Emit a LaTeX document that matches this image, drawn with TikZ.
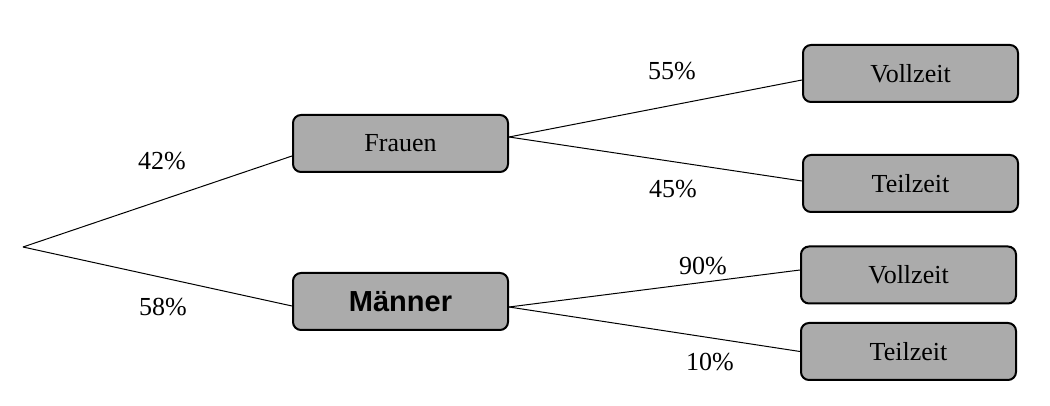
\documentclass[tikz,border=0pt]{standalone}
\usepackage{fontspec}
\setmainfont{Liberation Serif}
\newfontfamily\boldsans{Liberation Sans}
\usepackage{xcolor}
\usetikzlibrary{positioning}
\definecolor{boxgray}{RGB}{171,171,171}
\tikzset{
  leaf/.style={draw,line width=1pt,fill=boxgray,rounded corners=4pt,
    minimum width=107.5pt,minimum height=28.5pt,inner sep=0pt,font=\fontsize{13}{15}\selectfont},
  branch/.style={line width=.5pt}
}

\begin{document}
\begin{tikzpicture}[x=.5pt,y=-.5pt]
\useasboundingbox (0,0) rectangle (1050,406);
\coordinate (root) at (23,247);
\node[leaf] (fr) at (400.5,143.5) {Frauen};
\node[leaf,font=\boldsans\bfseries\fontsize{14.5}{16}\selectfont] (ma) at (400.5,301.5) {Männer};
\node[leaf] (frv) at (910.5,73.5) {Vollzeit};
\node[leaf] (frt) at (910.5,183.5) {Teilzeit};
\node[leaf] (mav) at (908.5,275) {Vollzeit};
\node[leaf] (mat) at (908.5,351.5) {Teilzeit};
\draw[branch] (root) -- ([yshift=-6.25pt]fr.west);
\draw[branch] (root) -- ([yshift=-2.25pt]ma.west);
\draw[branch] ([yshift=3.25pt]fr.east) -- ([yshift=-3.25pt]frv.west);
\draw[branch] ([yshift=3.25pt]fr.east) -- ([yshift=1.25pt]frt.west);
\draw[branch] ([yshift=-2.75pt]ma.east) -- ([yshift=2.5pt]mav.west);
\draw[branch] ([yshift=-2.75pt]ma.east) -- (mat.west);
\foreach \x/\y/\v in {162/161/42,163/307/58,672/71/55,673/189/45,703/266/90,710/362/10}{
  \node[font=\fontsize{13}{15}\selectfont] (p\v) at (\x,\y) {\v\%};
}
\end{tikzpicture}
\end{document}
